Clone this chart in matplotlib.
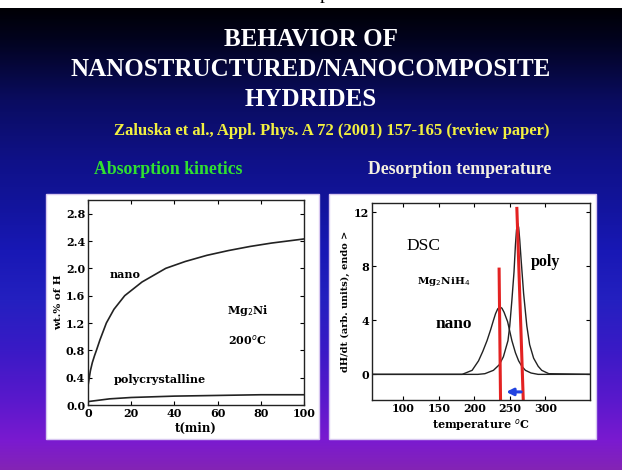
import numpy as np
import matplotlib.pyplot as plt
from matplotlib.patches import Rectangle

# Absorption kinetics of Mg2Ni at 200 C (wt.% H vs time)
t_nano = [0, 0.5, 1.1, 2, 3, 3.9, 5.5, 8.5, 12, 17, 25, 36, 45, 55, 65, 75, 85, 100]
wt_nano = [0.28, 0.38, 0.5, 0.62, 0.72, 0.8, 0.95, 1.2, 1.4, 1.6, 1.8, 2.0, 2.1, 2.19, 2.26, 2.32, 2.37, 2.43]
t_poly = [0, 5, 10, 15, 20, 30, 40, 60, 80, 100]
wt_poly = [0.05, 0.07, 0.09, 0.1, 0.11, 0.12, 0.13, 0.14, 0.15, 0.15]

# DSC desorption of Mg2NiH4
T_nano = [56, 183, 197, 206, 212, 218, 223, 227, 230, 233, 236, 239, 242, 247, 253, 258, 262.5, 267, 272, 280, 290, 363]
H_nano = [0, 0, 0.3, 1.0, 1.7, 2.5, 3.3, 4.0, 4.5, 4.85, 5.0, 4.9, 4.6, 3.9, 2.5, 1.6, 1.0, 0.6, 0.3, 0.1, 0, 0]
T_poly = [56, 205, 215, 227, 235, 241, 247.5, 250, 253, 256, 258, 259.5, 261, 262.5, 264, 266, 269.5, 274, 278, 283.6, 290, 295, 305, 363]
H_poly = [0, 0, 0.05, 0.3, 0.7, 1.3, 2.5, 3.6, 5.5, 7.6, 9.6, 10.7, 11.2, 10.9, 10.0, 8.5, 6.0, 3.6, 2.2, 1.2, 0.6, 0.3, 0.05, 0]
peak_nano = 236
peak_poly = 262

W, H = 622, 470
fig = plt.figure(figsize=(W / 100, H / 100), dpi=100)

# slide background: gradient from black to blue to purple
bg = fig.add_axes([0, 0, 1, 1])
bg.set_axis_off()
stops_y = [0, 7, 7.01, 40, 100, 160, 200, 250, 300, 350, 400, 440, 470]
stops_c = ['#ffffff', '#ffffff', '#000004', '#02031f', '#0a0c60', '#0f1188', '#12149a',
           '#1818b5', '#2420c0', '#3a1ac6', '#5a18cc', '#7a1ad0', '#8424b4']
rgb = np.array([plt.matplotlib.colors.to_rgb(c) for c in stops_c])
ys = np.arange(H)
grad = np.stack([np.interp(ys, stops_y, rgb[:, k]) for k in range(3)], axis=-1)[:, None, :]
bg.imshow(grad, extent=[0, W, H, 0], aspect='auto')
bg.set_xlim(0, W)
bg.set_ylim(H, 0)
bg.text(325, 3, 'p', ha='center', va='bottom', fontsize=14, family='Liberation Serif', color='black')

# white panels behind the two plots
bg.add_patch(Rectangle((46, 194), 273, 245, facecolor='white', edgecolor='#d8c8f0', lw=1))
bg.add_patch(Rectangle((329, 194), 267, 245, facecolor='white', edgecolor='#d8c8f0', lw=1))

tf = dict(family='Liberation Serif', weight='bold', ha='center', va='center')
bg.text(311, 40, 'BEHAVIOR OF', color='white', fontsize=18, **tf)
bg.text(311, 70, 'NANOSTRUCTURED/NANOCOMPOSITE', color='white', fontsize=18, **tf)
bg.text(311, 100, 'HYDRIDES', color='white', fontsize=18, **tf)
bg.text(332, 131, 'Zaluska et al., Appl. Phys. A 72 (2001) 157-165 (review paper)',
        color='#f2f040', fontsize=12, **tf)
bg.text(168, 170, 'Absorption kinetics', color='#30e030', fontsize=12.8, **tf)
bg.text(460, 170, 'Desorption temperature', color='#f4f0e0', fontsize=12.8, **tf)

cf = dict(family='DejaVu Serif', weight='bold')

# left plot: absorption kinetics
ax1 = fig.add_axes([88 / W, 1 - 405 / H, 216 / W, 205 / H])
ax1.plot(t_nano, wt_nano, color='#222222', lw=1.2)
ax1.plot(t_poly, wt_poly, color='#222222', lw=1.2)
ax1.set_xlim(0, 100)
ax1.set_ylim(0, 3.0)
ax1.set_xticks([0, 20, 40, 60, 80, 100])
ax1.set_yticks([0, 0.4, 0.8, 1.2, 1.6, 2.0, 2.4, 2.8])
ax1.set_yticklabels(['0.0', '0.4', '0.8', '1.2', '1.6', '2.0', '2.4', '2.8'])
ax1.set_xlabel('t(min)', fontsize=8.5, labelpad=2, **cf)
ax1.set_ylabel('wt.% of H', fontsize=7.5, labelpad=2, **cf)
ax1.text(17, 1.91, 'nano', ha='center', va='center', fontsize=8, **cf)
ax1.text(33, 0.38, 'polycrystalline', ha='center', va='center', fontsize=8, **cf)
ax1.text(74, 1.39, 'Mg$_2$Ni', ha='center', va='center', fontsize=8, **cf)
ax1.text(74, 0.95, '200$^o$C', ha='center', va='center', fontsize=8, **cf)

# right plot: DSC
ax2 = fig.add_axes([372 / W, 1 - 400 / H, 218 / W, 197 / H])
ax2.plot(T_nano, H_nano, color='#222222', lw=1.0)
ax2.plot(T_poly, H_poly, color='#222222', lw=1.0)
ax2.plot([peak_nano - 1, peak_nano + 1], [7.8, -1.9], color='#e32222', lw=2.2)
ax2.plot([peak_poly - 2, peak_poly + 7], [12.3, -1.9], color='#e32222', lw=2.2)
ax2.annotate('', xy=(241, -1.3), xytext=(270, -1.3),
             arrowprops=dict(arrowstyle='-|>', color='#2244e0', lw=2.2, mutation_scale=10))
ax2.set_xlim(56, 363)
ax2.set_ylim(-1.9, 12.7)
ax2.set_xticks([100, 150, 200, 250, 300])
ax2.set_yticks([0, 4, 8, 12])
ax2.set_xlabel('temperature $^o$C', fontsize=8, labelpad=2, **cf)
ax2.set_ylabel('dH/dt (arb. units), endo >', fontsize=7, labelpad=3, **cf)
ax2.text(129, 9.5, 'DSC', ha='center', va='center', fontsize=12.5, family='Liberation Serif')
ax2.text(157, 6.9, 'Mg$_2$NiH$_4$', ha='center', va='center', fontsize=7.5, **cf)
ax2.text(171, 3.7, 'nano', ha='center', va='center', fontsize=12.5, family='Liberation Serif', weight='bold')
ax2.text(301, 8.3, 'poly', ha='center', va='center', fontsize=11.5, family='Liberation Serif', weight='bold')

for ax in (ax1, ax2):
    ax.tick_params(direction='in', top=True, right=True, labelsize=8, length=3, pad=2)
    for lab in ax.get_xticklabels() + ax.get_yticklabels():
        lab.set_family('DejaVu Serif')
        lab.set_weight('bold')
    for s in ax.spines.values():
        s.set_linewidth(1.0)
        s.set_color('#222222')
    ax.set_facecolor('white')

fig.savefig('out.png', dpi=100)
